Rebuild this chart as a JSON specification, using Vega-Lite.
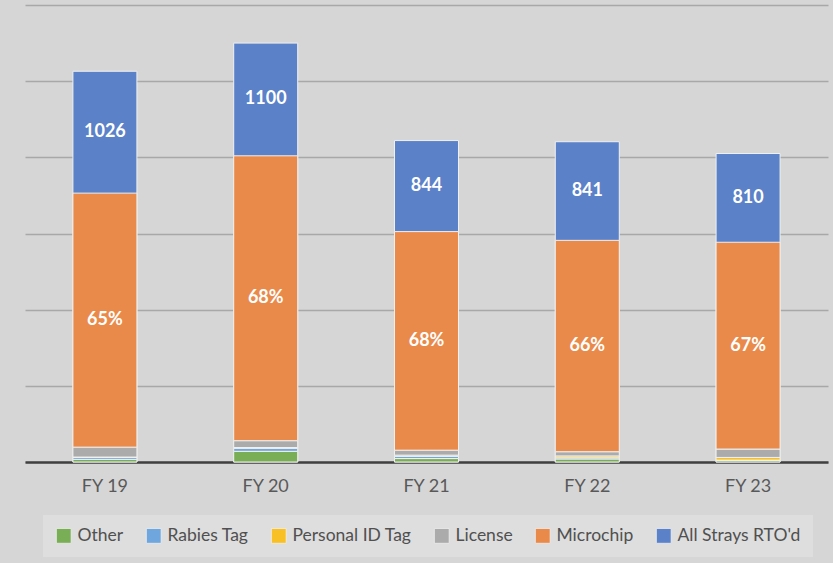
{
  "$schema": "https://vega.github.io/schema/vega-lite/v6.json",
  "width": 803,
  "height": 457,
  "autosize": "none",
  "padding": {"left": 25, "top": 5, "right": 5, "bottom": 101},
  "background": "#d6d6d6",
  "data": {
    "values": [
      {"year": "FY 19", "category": "Other", "rank": 1, "value": 7},
      {"year": "FY 19", "category": "Rabies Tag", "rank": 2, "value": 5},
      {"year": "FY 19", "category": "Personal ID Tag", "rank": 3, "value": 1},
      {"year": "FY 19", "category": "License", "rank": 4, "value": 26},
      {"year": "FY 19", "category": "Microchip", "rank": 5, "value": 667, "share": 0.65},
      {"year": "FY 19", "category": "All Strays RTO'd", "rank": 6, "value": 1026},
      {"year": "FY 20", "category": "Other", "rank": 1, "value": 28},
      {"year": "FY 20", "category": "Rabies Tag", "rank": 2, "value": 8},
      {"year": "FY 20", "category": "Personal ID Tag", "rank": 3, "value": 2},
      {"year": "FY 20", "category": "License", "rank": 4, "value": 18},
      {"year": "FY 20", "category": "Microchip", "rank": 5, "value": 748, "share": 0.68},
      {"year": "FY 20", "category": "All Strays RTO'd", "rank": 6, "value": 1100},
      {"year": "FY 21", "category": "Other", "rank": 1, "value": 9},
      {"year": "FY 21", "category": "Rabies Tag", "rank": 2, "value": 6},
      {"year": "FY 21", "category": "Personal ID Tag", "rank": 3, "value": 3},
      {"year": "FY 21", "category": "License", "rank": 4, "value": 13},
      {"year": "FY 21", "category": "Microchip", "rank": 5, "value": 574, "share": 0.68},
      {"year": "FY 21", "category": "All Strays RTO'd", "rank": 6, "value": 844},
      {"year": "FY 22", "category": "Other", "rank": 1, "value": 8},
      {"year": "FY 22", "category": "Rabies Tag", "rank": 2, "value": 3},
      {"year": "FY 22", "category": "Personal ID Tag", "rank": 3, "value": 5},
      {"year": "FY 22", "category": "License", "rank": 4, "value": 11},
      {"year": "FY 22", "category": "Microchip", "rank": 5, "value": 555, "share": 0.66},
      {"year": "FY 22", "category": "All Strays RTO'd", "rank": 6, "value": 841},
      {"year": "FY 23", "category": "Other", "rank": 1, "value": 4},
      {"year": "FY 23", "category": "Rabies Tag", "rank": 2, "value": 1},
      {"year": "FY 23", "category": "Personal ID Tag", "rank": 3, "value": 7},
      {"year": "FY 23", "category": "License", "rank": 4, "value": 22},
      {"year": "FY 23", "category": "Microchip", "rank": 5, "value": 543, "share": 0.67},
      {"year": "FY 23", "category": "All Strays RTO'd", "rank": 6, "value": 810}
    ]
  },
  "encoding": {
    "x": {
      "field": "year",
      "type": "nominal",
      "title": null,
      "scale": {"paddingInner": 0.602, "paddingOuter": 0.298}
    },
    "color": {
      "field": "category",
      "type": "nominal",
      "scale": {
        "domain": ["Other", "Rabies Tag", "Personal ID Tag", "License", "Microchip", "All Strays RTO'd"],
        "range": ["#7AAE56", "#6FA6DD", "#F8C024", "#ABABAB", "#EA8A4A", "#5B81C9"]
      },
      "legend": {
        "title": null,
        "orient": "none",
        "legendX": 18,
        "legendY": 510,
        "direction": "horizontal",
        "columns": 6
      }
    }
  },
  "layer": [
    {
      "transform": [{"filter": "datum.category === \"All Strays RTO'd\""}],
      "mark": {"type": "bar", "stroke": "#f0f0f0", "strokeWidth": 1},
      "encoding": {
        "y": {
          "field": "value",
          "type": "quantitative",
          "stack": null,
          "title": null,
          "scale": {"domain": [0, 1200], "nice": false},
          "axis": {"values": [0, 200, 400, 600, 800, 1000, 1200]}
        }
      }
    },
    {
      "transform": [{"filter": "datum.category !== \"All Strays RTO'd\""}],
      "mark": {"type": "bar", "stroke": "#f0f0f0", "strokeWidth": 1},
      "encoding": {
        "y": {"field": "value", "type": "quantitative", "stack": "zero", "title": null},
        "order": {"field": "rank", "type": "quantitative", "sort": "ascending"}
      }
    },
    {
      "transform": [
        {"stack": "value", "groupby": ["year"], "sort": [{"field": "rank", "order": "ascending"}], "as": ["v0", "v1"]},
        {"filter": "datum.category === 'Microchip'"},
        {"fold": ["v0", "v1"], "as": ["edge", "pos"]}
      ],
      "mark": {"type": "text", "font": "Lato", "fontWeight": "bold", "fontSize": 18, "baseline": "middle", "align": "center"},
      "encoding": {
        "y": {"aggregate": "mean", "field": "pos", "type": "quantitative", "title": null},
        "text": {"field": "share", "type": "quantitative", "format": ".0%"},
        "color": {"value": "#ffffff"}
      }
    },
    {
      "transform": [
        {"stack": "value", "groupby": ["year"], "sort": [{"field": "rank", "order": "ascending"}], "as": ["v0", "v1"]},
        {"filter": "datum.category === \"All Strays RTO'd\""},
        {"fold": ["v0", "value"], "as": ["edge", "pos"]}
      ],
      "mark": {"type": "text", "font": "Lato", "fontWeight": "bold", "fontSize": 18, "baseline": "middle", "align": "center"},
      "encoding": {
        "y": {"aggregate": "mean", "field": "pos", "type": "quantitative", "title": null},
        "text": {"field": "value", "type": "quantitative", "format": "d"},
        "color": {"value": "#ffffff"}
      }
    }
  ],
  "config": {
    "view": {"stroke": null},
    "axisX": {
      "labelAngle": 0,
      "labelFont": "Lato",
      "labelFontSize": 18,
      "labelColor": "#595959",
      "ticks": false,
      "tickSize": 0,
      "labelPadding": 15,
      "domainColor": "#404040",
      "domainWidth": 2.5,
      "grid": false,
      "zindex": 1
    },
    "axisY": {
      "labels": false,
      "ticks": false,
      "domain": false,
      "gridColor": "#a8a8a8",
      "gridWidth": 1.3,
      "zindex": 0
    },
    "legend": {
      "labelFont": "Lato",
      "labelFontSize": 17.5,
      "labelColor": "#505050",
      "symbolType": "square",
      "symbolSize": 220,
      "symbolStrokeColor": "#f0f0f0",
      "symbolStrokeWidth": 0.8,
      "labelOffset": 5,
      "columnPadding": 20,
      "padding": 12,
      "fillColor": "#dedede",
      "strokeColor": null
    }
  }
}
